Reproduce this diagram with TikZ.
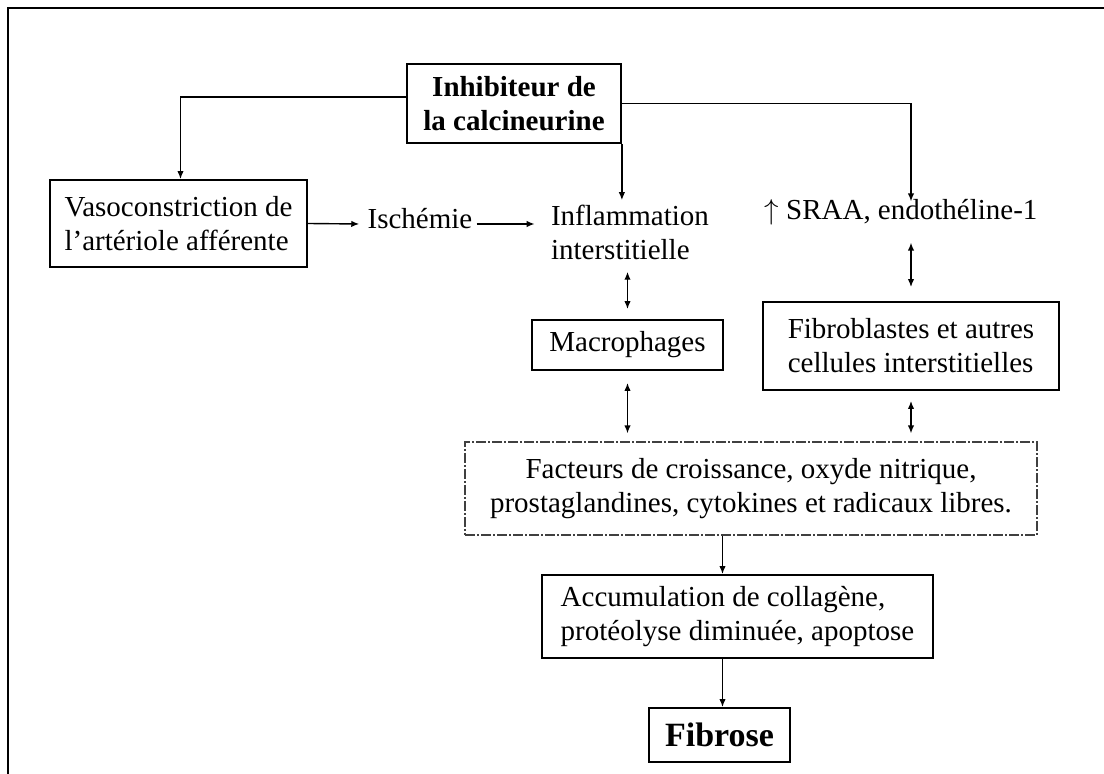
\documentclass[tikz,border=0pt]{standalone}
\usepackage{fontspec}
\setmainfont{Liberation Serif}
\usetikzlibrary{arrows.meta}
\begin{document}
\begin{tikzpicture}[x=0.5pt,y=-0.5pt,
  every node/.style={font=\fontsize{14.5pt}{17pt}\selectfont},
  box/.style={draw,line width=0.9pt,inner sep=2pt},
  lbl/.style={inner sep=2pt,text height=0.7em,text depth=0.22em},
  arr/.style={-{Latex[length=4pt,width=3.2pt]},line width=0.7pt},
  dbl/.style={{Latex[length=4pt,width=3.2pt]}-{Latex[length=4pt,width=3.2pt]},line width=0.7pt},
  dashbox/.style={draw,line width=0.6pt,black!75,dash pattern=on 5pt off 1pt on 1pt off 1pt,text=black,inner sep=2pt}]
\useasboundingbox (0,0) rectangle (1104,774);
% frame
\draw[line width=1.4pt] (8,774) -- (8,8) -- (1104,8);
% nodes
\node[box,minimum width=107pt,minimum height=39.5pt,align=center,font=\fontsize{14.5pt}{17pt}\selectfont\bfseries] (top) at (514,103.5) {Inhibiteur de\\la calcineurine};
\node[box,minimum width=128.5pt,minimum height=43.5pt,align=left] (vaso) at (178.5,223.5) {Vasoconstriction de\\l’artériole afférente};
\node[lbl] (isch) at (420,224) {Ischémie};
\node[align=left,inner sep=2pt] (infl) at (630,232) {Inflammation\\interstitielle};
\node[lbl] (sraa) at (901,215) {$\uparrow$ SRAA, endothéline-1};
\node[box,minimum width=95.5pt,minimum height=25pt] (macro) at (627.5,345) {Macrophages};
\node[box,minimum width=148pt,minimum height=44pt,align=left] (fibro) at (911,346) {Fibroblastes et autres\\cellules interstitielles};
\node[dashbox,minimum width=286pt,minimum height=46.5pt,align=center] (fact) at (751,488.5) {Facteurs de croissance, oxyde nitrique,\\prostaglandines, cytokines et radicaux libres.};
\node[box,minimum width=195.5pt,minimum height=41.5pt,align=left] (accum) at (737.5,616.5) {Accumulation de collagène,\\protéolyse diminuée, apoptose};
\node[box,minimum width=70.5pt,minimum height=27pt,font=\fontsize{17pt}{20pt}\selectfont\bfseries] (fib) at (719.5,735) {Fibrose};
% connectors
\draw[arr] ([yshift=3.25pt]top.west) -| ([xshift=1pt]vaso.north);
\draw[arr] (top.east) -| ([xshift=5pt]sraa.north);
\draw[arr] (top.south east) -- (top.south east |- infl.north);
\draw[arr] (vaso.east) -- ([xshift=-2pt]isch.west);
\draw[arr] (isch.east) -- ([xshift=-6pt]isch.east -| infl.west);
\draw[dbl,shorten <=4pt,shorten >=5pt] (macro.north |- infl.south) -- (macro.north);
\draw[dbl,shorten <=7pt,shorten >=7pt] (fibro.north |- sraa.south) -- (fibro.north);
\draw[dbl,shorten <=6pt,shorten >=4pt] (macro.south) -- (macro.south |- fact.north);
\draw[dbl,shorten <=5pt,shorten >=4pt] (fibro.south) -- (fibro.south |- fact.north);
\draw[arr] ([xshift=1.5pt]fib.north |- fact.south) -- ([xshift=1.5pt]fib.north |- accum.north);
\draw[arr] ([xshift=1.5pt]fib.north |- accum.south) -- ([xshift=1.5pt]fib.north);
\end{tikzpicture}
\end{document}
